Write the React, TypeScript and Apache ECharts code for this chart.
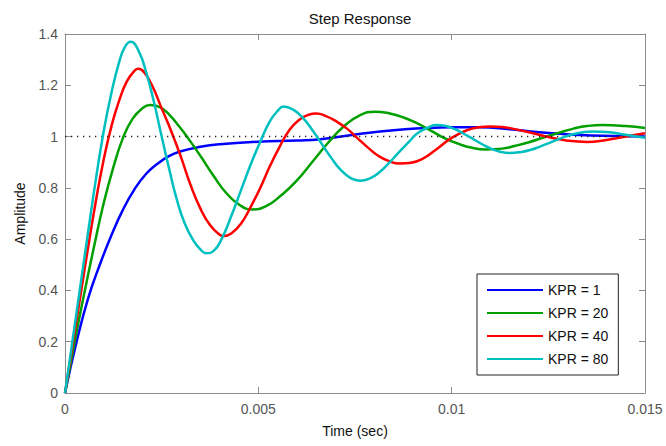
import React, { useEffect, useRef } from "react";
import * as echarts from "echarts";

// Step responses: [time in ms, amplitude]
const kpr1: [number, number][] = [
  [0, 0], [0.3, 0.2], [0.6, 0.37], [0.9, 0.5], [1.2, 0.615], [1.5, 0.715], [1.8, 0.795],
  [2.1, 0.855], [2.4, 0.895], [2.7, 0.925], [3.0, 0.943], [3.5, 0.96], [4.0, 0.97],
  [5.0, 0.98], [6.0, 0.985], [6.6, 0.99], [7.6, 1.01], [8.5, 1.025], [9.2, 1.032],
  [10.0, 1.036], [10.7, 1.036], [11.5, 1.029], [12.0, 1.021], [12.6, 1.013], [13.3, 1.006],
  [14.2, 1.002], [15, 1.0],
];

const kpr20: [number, number][] = [
  [0, 0], [0.25, 0.2], [0.5, 0.39], [0.75, 0.57], [1.0, 0.74], [1.25, 0.88], [1.5, 0.995],
  [1.75, 1.07], [2.0, 1.11], [2.2, 1.123], [2.45, 1.115], [2.7, 1.085], [2.95, 1.04],
  [3.2, 0.99], [3.5, 0.925], [3.85, 0.845], [4.17, 0.78], [4.5, 0.735], [4.83, 0.716],
  [5.2, 0.7285], [5.6, 0.772], [6.0, 0.829], [6.425, 0.9065], [6.8, 0.975], [7.22, 1.041],
  [7.6, 1.081], [8.02, 1.097], [8.4, 1.09], [8.74, 1.0755], [9.1, 1.052], [9.46, 1.0235],
  [9.8, 0.995], [10.18, 0.9715], [10.5, 0.957], [10.9, 0.95], [11.3, 0.953], [11.65, 0.964],
  [12.0, 0.978], [12.4, 0.9975], [12.8, 1.016], [13.15, 1.031], [13.5, 1.041], [13.9, 1.045],
  [14.5, 1.041], [15, 1.033],
];

const kpr40: [number, number][] = [
  [0, 0], [0.2, 0.19], [0.4, 0.38], [0.6, 0.57], [0.8, 0.75], [1.0, 0.91], [1.2, 1.04],
  [1.4, 1.14], [1.6, 1.215], [1.8, 1.257], [1.9, 1.264], [2.05, 1.25], [2.25, 1.2],
  [2.5, 1.11], [2.75, 1.02], [3.0, 0.92], [3.25, 0.81], [3.5, 0.72], [3.75, 0.655],
  [4.0, 0.617], [4.1, 0.612], [4.3, 0.622], [4.55, 0.66], [4.8, 0.725], [5.05, 0.8],
  [5.3, 0.885], [5.55, 0.96], [5.8, 1.025], [6.05, 1.065], [6.3, 1.085], [6.5, 1.09],
  [6.75, 1.08], [7.0, 1.061], [7.3, 1.03], [7.555, 0.995], [7.85, 0.955], [8.1, 0.925],
  [8.4, 0.903], [8.66, 0.895], [8.95, 0.898], [9.245, 0.913], [9.6, 0.95], [10.0, 0.995],
  [10.4, 1.025], [10.7, 1.036], [11.0, 1.039], [11.3, 1.037], [11.6, 1.03], [12.1, 1.013],
  [12.5, 0.998], [13.0, 0.984], [13.5, 0.979], [14.0, 0.987], [14.5, 1.0], [15, 1.013],
];

const kpr80: [number, number][] = [
  [0, 0], [0.2, 0.21], [0.4, 0.42], [0.6, 0.63], [0.8, 0.835], [1.0, 1.02], [1.2, 1.17],
  [1.4, 1.29], [1.55, 1.35], [1.7, 1.37], [1.9, 1.335], [2.1, 1.25], [2.3, 1.135],
  [2.5, 1.0], [2.7, 0.87], [2.9, 0.75], [3.1, 0.66], [3.3, 0.6], [3.5, 0.56], [3.66, 0.545],
  [3.85, 0.555], [4.05, 0.6], [4.3, 0.69], [4.55, 0.79], [4.8, 0.89], [5.05, 0.98],
  [5.3, 1.06], [5.5, 1.1], [5.65, 1.117], [5.9, 1.105], [6.14, 1.075], [6.4, 1.025],
  [6.635, 0.9725], [6.9, 0.914], [7.13, 0.87], [7.4, 0.837], [7.63, 0.828], [7.9, 0.838],
  [8.125, 0.86], [8.4, 0.9], [8.62, 0.9365], [8.9, 0.98], [9.115, 1.013], [9.4, 1.036],
  [9.61, 1.045], [9.85, 1.041], [10.08, 1.029], [10.3, 1.012], [10.555, 0.9905],
  [10.8, 0.969], [11.03, 0.952], [11.25, 0.941], [11.5, 0.936], [11.8, 0.94], [12.04, 0.948],
  [12.3, 0.962], [12.575, 0.978], [12.85, 0.995], [13.11, 1.008], [13.4, 1.017],
  [13.65, 1.02], [14.0, 1.018], [14.5, 1.007], [15, 0.995],
];

const seriesNames = ["KPR = 1", "KPR = 20", "KPR = 40", "KPR = 80"];
const seriesColors = ["#0000ff", "#00a000", "#ff0000", "#00bfbf"];
const seriesData = [kpr1, kpr20, kpr40, kpr80];

const xMin = 0;
const xMax = 0.015;
const xStep = 0.005;
const yMin = 0;
const yMax = 1.4;
const yStep = 0.2;
const steadyState = 1;

const FONT = "'Liberation Sans', Arial, sans-serif";
const AXIS_GRAY = "#8c8c8c";
const LABEL_GRAY = "#555555";

export default function App() {
  const ref = useRef<HTMLDivElement>(null);

  useEffect(() => {
    if (!ref.current) return;
    const chart = echarts.init(ref.current, undefined, { renderer: "svg" });

    const boxAxis = (position: string, showLabel: boolean) => ({
      position,
      axisLine: { show: true, onZero: false, lineStyle: { color: AXIS_GRAY, width: 1 } },
      axisTick: { show: true, inside: true, length: 6, lineStyle: { color: AXIS_GRAY } },
      splitLine: { show: false },
      axisLabel: {
        show: showLabel,
        color: LABEL_GRAY,
        fontSize: 14,
        fontFamily: FONT,
      },
    });

    const series = seriesData.map((pts, i) => ({
      name: seriesNames[i],
      type: "line",
      data: pts.map(([t, v]) => [t / 1000, v]),
      showSymbol: false,
      symbol: "none",
      smooth: 0.5,
      z: 2 + i,
      color: seriesColors[i],
      itemStyle: { color: seriesColors[i] },
      lineStyle: { color: seriesColors[i], width: 2.5 },
      markLine:
        i === 0
          ? {
              silent: true,
              symbol: "none",
              label: { show: false },
              lineStyle: { color: "#222", width: 1.3, type: [1.3, 4.7] },
              data: [{ yAxis: steadyState }],
            }
          : undefined,
    }));

    chart.setOption({
      animation: false,
      backgroundColor: "#ffffff",
      textStyle: { fontFamily: FONT },
      title: {
        text: "Step Response",
        left: 355,
        textAlign: "center",
        top: 6,
        textStyle: { fontSize: 15, fontWeight: "normal", color: "#111", fontFamily: FONT },
      },
      grid: { left: 65, right: 21, top: 34, bottom: 53, containLabel: false },
      legend: {
        orient: "vertical",
        left: 477,
        top: 274,
        padding: [8, 10, 8, 10],
        itemGap: 7,
        itemWidth: 56,
        itemHeight: 2,
        icon: "rect",
        backgroundColor: "#ffffff",
        borderColor: "#222",
        borderWidth: 1,
        textStyle: { fontSize: 14, color: "#111", fontFamily: FONT, lineHeight: 16 },
        data: seriesNames,
      },
      xAxis: [
        {
          type: "value",
          min: xMin,
          max: xMax,
          interval: xStep,
          ...boxAxis("bottom", true),
          axisLabel: {
            show: true,
            color: LABEL_GRAY,
            fontSize: 14,
            fontFamily: FONT,
            margin: 9,
          },
          name: "Time (sec)",
          nameLocation: "middle",
          nameGap: 31,
          nameTextStyle: { fontSize: 14, color: "#111", fontFamily: FONT },
        },
        {
          type: "value",
          min: xMin,
          max: xMax,
          interval: xStep,
          ...boxAxis("top", false),
        },
      ],
      yAxis: [
        {
          type: "value",
          min: yMin,
          max: yMax,
          interval: yStep,
          ...boxAxis("left", true),
          axisLabel: {
            show: true,
            color: LABEL_GRAY,
            fontSize: 14,
            fontFamily: FONT,
            margin: 7,
          },
          name: "Amplitude",
          nameLocation: "middle",
          nameGap: 38,
          nameTextStyle: { fontSize: 14, color: "#111", fontFamily: FONT },
        },
        {
          type: "value",
          min: yMin,
          max: yMax,
          interval: yStep,
          ...boxAxis("right", false),
        },
      ],
      series,
    });

    return () => chart.dispose();
  }, []);

  return (
    <div
      ref={ref}
      style={{ position: "fixed", left: 0, top: 0, width: 666, height: 446, background: "#fff" }}
    />
  );
}
